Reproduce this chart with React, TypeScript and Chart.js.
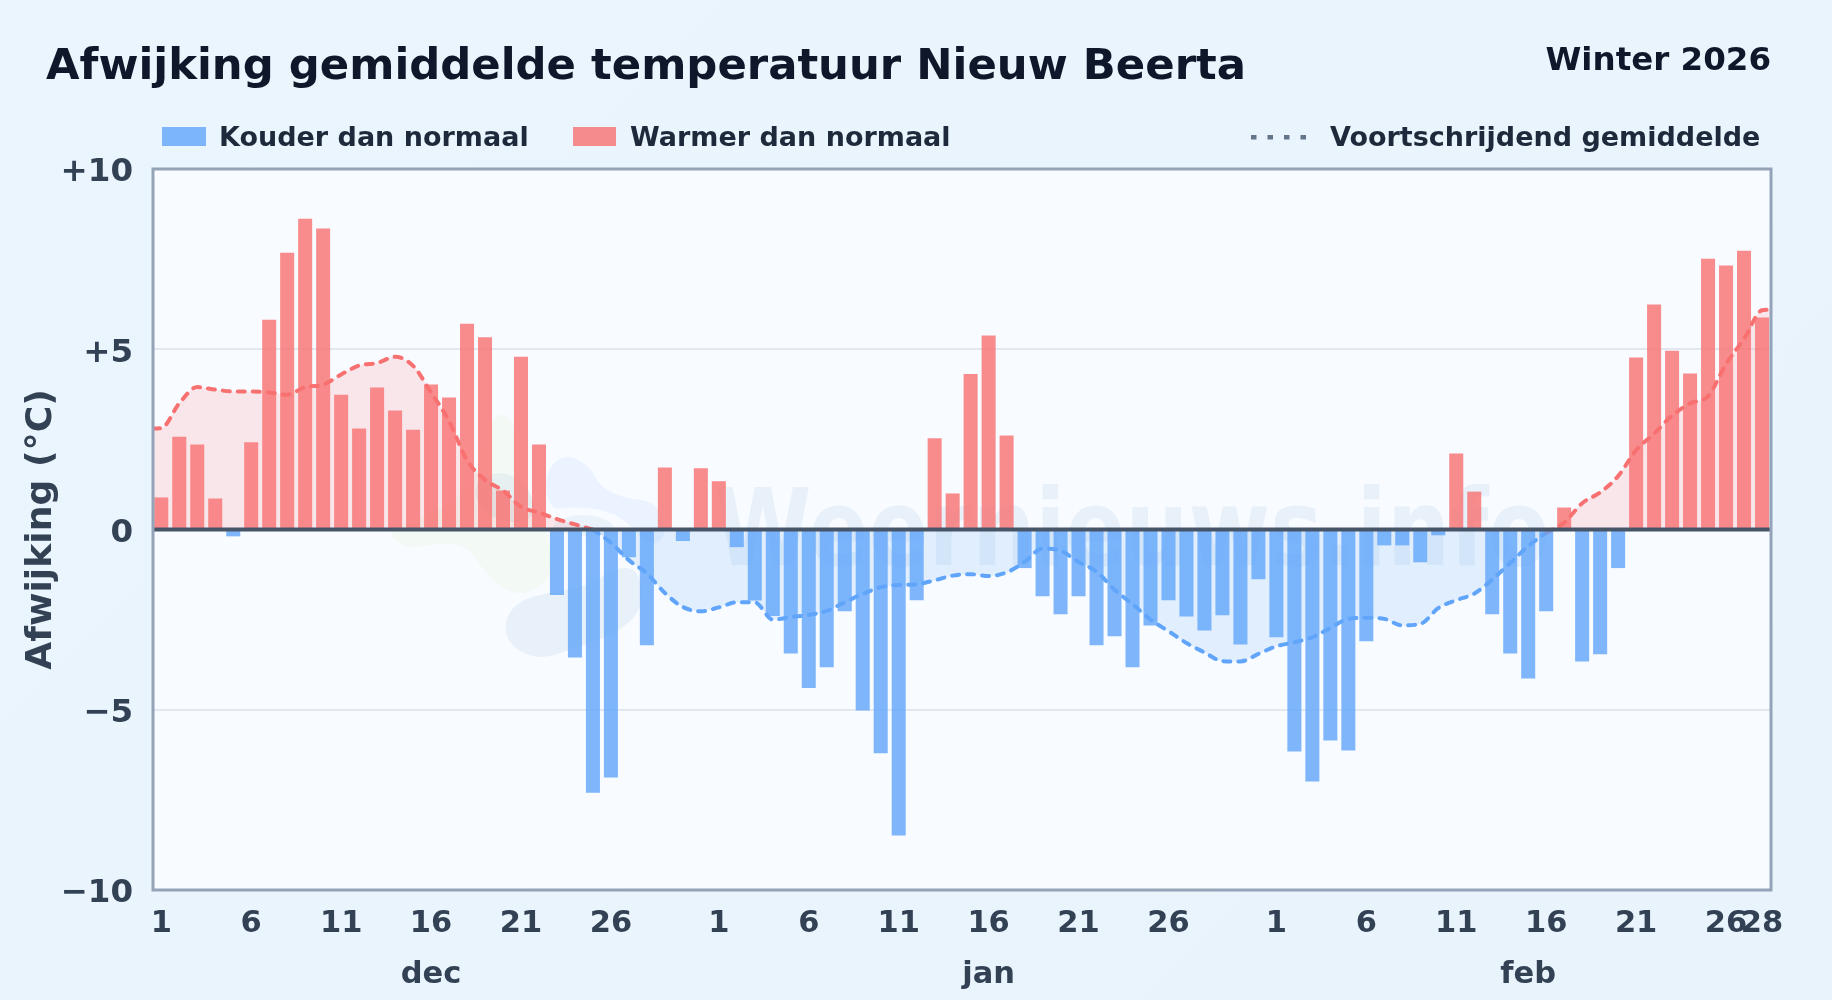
import React, { useEffect, useRef } from "react";
import { Chart, registerables } from "chart.js";

Chart.register(...registerables);

const chartTitle = "Afwijking gemiddelde temperatuur Nieuw Beerta";
const seasonLabel = "Winter 2026";
const yAxisTitle = "Afwijking (°C)";
const coldLabel = "Kouder dan normaal";
const warmLabel = "Warmer dan normaal";
const avgLabel = "Voortschrijdend gemiddelde";
const watermark = "Weernieuws.info";

const deviation = [
  0.89, 2.57, 2.36, 0.86, -0.19, 2.42, 5.82, 7.68, 8.62, 8.35, 3.74, 2.8, 3.94, 3.3, 2.77, 4.02, 3.66, 5.71, 5.33, 1.08,
  4.79, 2.36, -1.82, -3.55, -7.3, -6.88, -0.77, -3.21, 1.72, -0.32, 1.7,
  1.34, -0.49, -1.97, -2.4, -3.44, -4.4, -3.82, -2.27, -5.02, -6.21, -8.49, -1.96, 2.53, 1.0, 4.31, 5.38, 2.61, -1.07,
  -1.85, -2.35, -1.85, -3.21, -2.96, -3.82, -2.66, -1.96, -2.41, -2.8, -2.38, -3.19, -1.38,
  -2.99, -6.16, -6.99, -5.85, -6.13, -3.1, -0.44, -0.44, -0.91, -0.16, 2.11, 1.05, -2.35, -3.44, -4.13, -2.27, 0.61,
  -3.66, -3.46, -1.07, 4.77, 6.24, 4.96, 4.33, 7.51, 7.32, 7.73, 5.88,
];

const movingAverage = [
  2.81, 3.5, 3.95, 3.88, 3.83, 3.83, 3.8, 3.74, 3.95, 4.02, 4.3, 4.55, 4.62, 4.79, 4.54, 3.8, 3.01, 1.92, 1.38, 1.08,
  0.63, 0.47, 0.29, 0.14, 0, -0.37, -0.85, -1.22, -1.76, -2.15, -2.27,
  -2.16, -2.02, -2.02, -2.5, -2.43, -2.37, -2.26, -2.02, -1.79, -1.6, -1.54, -1.52, -1.41, -1.28, -1.24, -1.29, -1.19,
  -0.9, -0.53, -0.59, -0.9, -1.17, -1.67, -2.07, -2.5, -2.82, -3.15, -3.41, -3.65, -3.66, -3.45,
  -3.24, -3.13, -2.99, -2.73, -2.48, -2.45, -2.48, -2.66, -2.62, -2.18, -1.96, -1.78, -1.39, -0.93, -0.46, -0.09, 0.19,
  0.73, 1.03, 1.48, 2.2, 2.66, 3.16, 3.5, 3.7, 4.59, 5.29, 6.08,
];
const avgStart = 2.8;
const avgEnd = 6.1;
const avgColdFrom = 24;
const avgColdTo = 77;

const dayTickIndex = [0, 5, 10, 15, 20, 25, 31, 36, 41, 46, 51, 56, 62, 67, 72, 77, 82, 87, 89];
const dayTickLabel = ["1", "6", "11", "16", "21", "26", "1", "6", "11", "16", "21", "26", "1", "6", "11", "16", "21", "26", "28"];
const monthTickIndex = [15, 46, 76];
const monthTickLabel = ["dec", "jan", "feb"];
const yTicks = [-10, -5, 0, 5, 10];

const X_MIN = -0.46;
const X_MAX = 89.5;

const FONT = '"DejaVu Sans", sans-serif';
const BLUE = "#60a5fa";
const RED = "#f87171";
const BLUE_BAR = "rgba(96,165,250,0.8)";
const RED_BAR = "rgba(248,113,113,0.8)";

// Faint logo shapes of the watermark, in page pixels.
function blob(ctx: CanvasRenderingContext2D, pts: number[][], fill: string) {
  const p = pts.map(([x, y]) => [360 + x / 3, 390 + y / 3]);
  ctx.beginPath();
  const n = p.length;
  ctx.moveTo((p[n - 1][0] + p[0][0]) / 2, (p[n - 1][1] + p[0][1]) / 2);
  for (let i = 0; i < n; i++) {
    const q = p[(i + 1) % n];
    ctx.quadraticCurveTo(p[i][0], p[i][1], (p[i][0] + q[0]) / 2, (p[i][1] + q[1]) / 2);
  }
  ctx.closePath();
  ctx.fillStyle = fill;
  ctx.fill();
}

const decorPlugin = {
  id: "decor",
  beforeDraw(chart: any) {
    const { ctx, chartArea: a } = chart;
    ctx.save();
    ctx.fillStyle = "#f8fbff";
    ctx.fillRect(a.left, a.top, a.right - a.left, a.bottom - a.top);
    blob(ctx, [[410,60],[470,100],[475,200],[500,300],[565,420],[580,550],[510,615],[440,605],[375,550],[330,475],[250,455],[150,480],[70,430],[200,380],[330,300],[380,150]], "rgba(200,230,140,0.09)");
    blob(ctx, [[555,240],[620,190],[690,230],[720,290],[790,325],[890,335],[925,430],[870,475],[810,400],[740,360],[640,350],[565,360]], "rgba(147,197,253,0.14)");
    blob(ctx, [[430,700],[470,635],[570,605],[680,590],[770,530],[840,540],[850,660],[760,735],[640,775],[540,810],[450,770]], "rgba(100,150,200,0.1)");
    blob(ctx, [[345,270],[430,240],[510,290],[530,390],[430,400],[350,350]], "rgba(100,150,200,0.09)");
    blob(ctx, [[560,420],[620,375],[720,375],[780,420],[690,445]], "rgba(100,150,200,0.09)");
    ctx.font = `bold 88.5px ${FONT}`;
    ctx.textAlign = "left";
    ctx.textBaseline = "alphabetic";
    ctx.fillStyle = "rgba(80,130,190,0.09)";
    ctx.translate(714, 565);
    ctx.scale(1, 1.2);
    ctx.fillText(watermark, 0, 0);
    ctx.restore();
  },
  afterDatasetsDraw(chart: any) {
    const { ctx, chartArea: a, scales } = chart;
    const y0 = scales.y.getPixelForValue(0);
    ctx.save();
    ctx.strokeStyle = "#475569";
    ctx.lineWidth = 4;
    ctx.beginPath();
    ctx.moveTo(a.left, y0);
    ctx.lineTo(a.right, y0);
    ctx.stroke();
    ctx.strokeStyle = "#94a3b8";
    ctx.lineWidth = 3;
    ctx.strokeRect(a.left, a.top, a.right - a.left, a.bottom - a.top);
    ctx.restore();
  },
  afterDraw(chart: any) {
    const { ctx } = chart;
    ctx.save();
    ctx.textBaseline = "middle";
    ctx.textAlign = "left";
    ctx.fillStyle = "#0f172a";
    ctx.font = `bold 43.35px ${FONT}`;
    ctx.fillText(chartTitle, 46, 68);
    ctx.textAlign = "right";
    ctx.font = `bold 32.5px ${FONT}`;
    ctx.fillText(seasonLabel, 1771, 62);
    ctx.textAlign = "left";
    ctx.font = `bold 27px ${FONT}`;
    ctx.fillStyle = BLUE_BAR;
    ctx.fillRect(162, 127, 44, 19);
    ctx.fillStyle = RED_BAR;
    ctx.fillRect(573, 127, 43, 19);
    ctx.fillStyle = "#1e293b";
    ctx.fillText(coldLabel, 219, 139);
    ctx.fillText(warmLabel, 630, 139);
    ctx.fillText(avgLabel, 1330, 139);
    ctx.fillStyle = "#64748b";
    for (let i = 0; i < 4; i++) ctx.fillRect(1251 + i * 16.5, 135, 5.5, 4.5);
    ctx.restore();
  },
};

function pointsBetween(from: number, to: number) {
  const pts: { x: number; y: number }[] = [];
  for (let i = from; i <= to; i++) pts.push({ x: i, y: movingAverage[i] });
  return pts;
}

export default function App() {
  const ref = useRef<HTMLCanvasElement>(null);
  useEffect(() => {
    document.body.style.margin = "0";
    const warmAvg: { x: number; y: number | null }[] = [
      { x: X_MIN, y: avgStart },
      ...pointsBetween(0, avgColdFrom),
      { x: (avgColdFrom + avgColdTo) / 2, y: null },
      ...pointsBetween(avgColdTo, movingAverage.length - 1),
      { x: X_MAX, y: avgEnd },
    ];
    const coldAvg = pointsBetween(avgColdFrom, avgColdTo);
    const chart = new Chart(ref.current!, {
      type: "bar",
      data: {
        datasets: [
          {
            type: "bar",
            label: coldLabel,
            data: deviation.map((y, x) => ({ x, y: y < 0 ? y : null })),
            backgroundColor: BLUE_BAR,
            order: 1,
            grouped: false,
            barPercentage: 0.78,
            categoryPercentage: 1,
          },
          {
            type: "bar",
            label: warmLabel,
            data: deviation.map((y, x) => ({ x, y: y >= 0 ? y : null })),
            backgroundColor: RED_BAR,
            order: 1,
            grouped: false,
            barPercentage: 0.78,
            categoryPercentage: 1,
          },
          {
            type: "line",
            label: avgLabel,
            data: warmAvg,
            borderColor: RED,
            backgroundColor: "rgba(248,113,113,0.15)",
            borderWidth: 4,
            borderDash: [7, 8],
            borderCapStyle: "round",
            pointRadius: 0,
            cubicInterpolationMode: "monotone",
            fill: "origin",
            order: 2,
          },
          {
            type: "line",
            label: avgLabel,
            data: coldAvg,
            borderColor: BLUE,
            backgroundColor: "rgba(96,165,250,0.15)",
            borderWidth: 4,
            borderDash: [7, 8],
            borderCapStyle: "round",
            pointRadius: 0,
            cubicInterpolationMode: "monotone",
            fill: "origin",
            order: 2,
          },
        ] as any,
      },
      options: {
        animation: false,
        responsive: false,
        devicePixelRatio: 1,
        layout: { padding: { left: 20, right: 61, top: 169, bottom: 0 } },
        plugins: { legend: { display: false }, tooltip: { enabled: false }, title: { display: false } },
        scales: {
          x: {
            type: "linear",
            position: "bottom",
            min: X_MIN,
            max: X_MAX,
            offset: false,
            afterFit: (s: any) => { s.height = 50; },
            afterBuildTicks: (s: any) => { s.ticks = dayTickIndex.map((value) => ({ value })); },
            grid: { display: false },
            border: { display: false },
            ticks: {
              autoSkip: false,
              maxRotation: 0,
              padding: 8,
              color: "#334155",
              font: { family: FONT, size: 30.5, weight: "bold" },
              callback: (v: any) => dayTickLabel[dayTickIndex.indexOf(Number(v))] ?? "",
            },
          },
          xm: {
            type: "linear",
            position: "bottom",
            min: X_MIN,
            max: X_MAX,
            offset: false,
            afterFit: (s: any) => { s.height = 60; },
            afterBuildTicks: (s: any) => { s.ticks = monthTickIndex.map((value) => ({ value })); },
            grid: { display: false, drawTicks: false },
            border: { display: false },
            ticks: {
              autoSkip: false,
              maxRotation: 0,
              padding: 17,
              color: "#334155",
              font: { family: FONT, size: 30.5, weight: "bold" },
              callback: (v: any) => monthTickLabel[monthTickIndex.indexOf(Number(v))] ?? "",
            },
          },
          y: {
            min: -10,
            max: 10,
            afterFit: (s: any) => { s.width = 133; },
            afterBuildTicks: (s: any) => { s.ticks = yTicks.map((value) => ({ value })); },
            grid: { color: "#e2e8f0", lineWidth: 2, drawTicks: false },
            border: { display: false },
            title: {
              display: true,
              text: yAxisTitle,
              color: "#334155",
              font: { family: FONT, size: 36.2, weight: "bold" },
              padding: 0,
            },
            ticks: {
              padding: 20,
              labelOffset: 4,
              color: "#334155",
              font: { family: FONT, size: 32.5, weight: "bold" },
              callback: (v: any) => (v > 0 ? `+${v}` : v < 0 ? `\u2212${Math.abs(v)}` : "0"),
            },
          },
        },
      } as any,
      plugins: [decorPlugin],
    });
    return () => chart.destroy();
  }, []);
  return (
    <div style={{ width: 1832, height: 1000, background: "linear-gradient(135deg,#ebf5fd,#e8f3fc)" }}>
      <canvas ref={ref} width={1832} height={1000} style={{ display: "block", width: 1832, height: 1000 }} />
    </div>
  );
}
